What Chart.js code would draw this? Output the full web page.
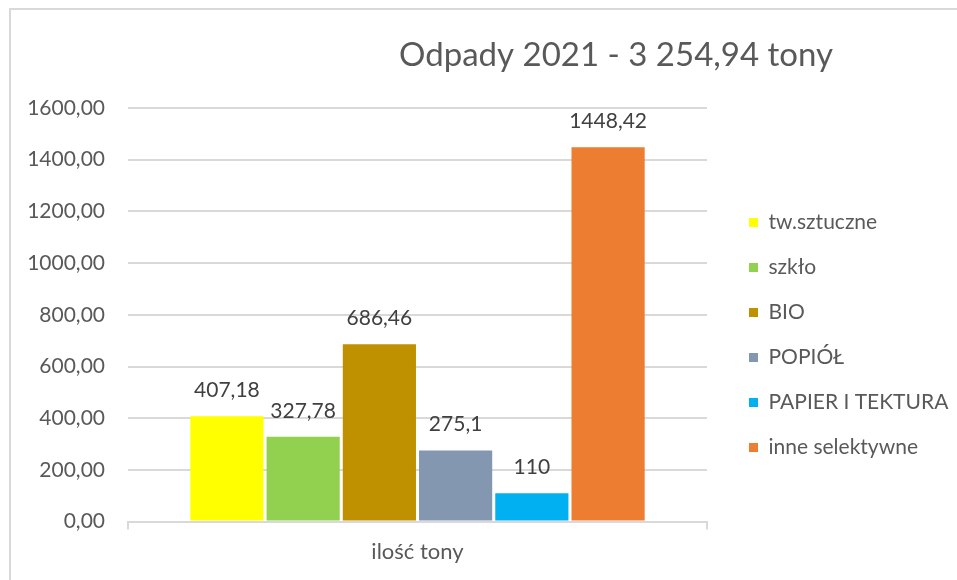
<!DOCTYPE html>
<html>
<head>
<meta charset="utf-8">
<script src="https://cdn.jsdelivr.net/npm/chart.js@4.4.1/dist/chart.umd.min.js"></script>
<style>
	html, body { margin: 0; padding: 0; background: #ffffff; }
	#wrap { position: relative; width: 957px; height: 580px; }
</style>
</head>
<body>
<div id="wrap"><canvas id="chart" width="957" height="580"></canvas></div>
<script>

// data
const categories = ["ilość tony"];
const seriesNames = ["tw.sztuczne", "szkło", "BIO", "POPIÓŁ", "PAPIER I TEKTURA", "inne selektywne"];
const seriesValues = [407.18, 327.78, 686.46, 275.1, 110, 1448.42];
const seriesColors = ["#FFFF00", "#92D050", "#BF9000", "#8497B0", "#00B0F0", "#ED7D31"];
const yMin = 0;
const yMax = 1600;
const yStep = 200;
const chartTitle = "Odpady 2021 - 3 254,94 tony";

const textColor = "#595959";
const gridColor = "#d9d9d9";
const fontFamily = "Lato, 'Open Sans', sans-serif";

// legend box size (excel keeps it wide, chart.js measures it too small)
const legendWidth = 232;
const legendShift = -6;

function commaNumber(v) {
	return String(v).replace(".", ",");
}

let datasets = [];

for (let i = 0; i < seriesNames.length; i++) {

	datasets.push({
		label: seriesNames[i],
		data: [seriesValues[i]],
		backgroundColor: seriesColors[i],
		borderWidth: 0
	});

}

// frame + title, drawn like the excel chart box
const framePlugin = {
	id: "frame",
	beforeDraw(chart) {
		let ctx = chart.ctx;
		ctx.save();
		ctx.fillStyle = "#ffffff";
		ctx.fillRect(0, 0, chart.width, chart.height);
		ctx.strokeStyle = gridColor;
		ctx.lineWidth = 2;
		ctx.strokeRect(10, 9, chart.width + 20, chart.height + 20);
		ctx.restore();
	},
	afterDraw(chart) {
		let ctx = chart.ctx;
		ctx.save();
		ctx.fillStyle = textColor;
		ctx.font = "33px " + fontFamily;
		ctx.textAlign = "center";
		ctx.textBaseline = "middle";
		ctx.fillText(chartTitle, 616, 55);
		ctx.restore();
	}
};

// force the legend width and nudge it up a bit
const legendTune = {
	id: "legendTune",
	beforeLayout(chart) {
		let lg = chart.legend;
		if (lg && !lg._tuned) {
			let fit = lg.fit.bind(lg);
			lg.fit = function() {
				fit();
				lg.width = legendWidth;
				if (lg.minSize) lg.minSize.width = legendWidth;
			};
			lg._tuned = true;
		}
	},
	afterLayout(chart) {
		let lg = chart.legend;
		if (lg) {
			lg.top += legendShift;
			lg.bottom += legendShift;
		}
	}
};

// value labels above the bars
const valueLabels = {
	id: "valueLabels",
	afterDatasetsDraw(chart) {
		let ctx = chart.ctx;
		ctx.save();
		ctx.fillStyle = "#404040";
		ctx.font = "21px " + fontFamily;
		ctx.textAlign = "center";
		ctx.textBaseline = "middle";
		chart.data.datasets.forEach(function(ds, i) {
			let meta = chart.getDatasetMeta(i);
			meta.data.forEach(function(bar, j) {
				ctx.fillText(commaNumber(ds.data[j]), bar.x, bar.y - 26);
			});
		});
		ctx.restore();
	}
};

new Chart(document.getElementById("chart"), {
	type: "bar",
	data: {
		labels: categories,
		datasets: datasets
	},
	options: {
		responsive: false,
		animation: false,
		categoryPercentage: 0.79,
		barPercentage: 0.96,
		layout: {
			padding: { top: 108, bottom: 6, left: 0, right: 0 }
		},
		plugins: {
			title: { display: false },
			tooltip: { enabled: false },
			legend: {
				position: "right",
				align: "center",
				labels: {
					boxWidth: 9,
					boxHeight: 9,
					padding: 24,
					color: textColor,
					font: { family: fontFamily, size: 21 }
				}
			}
		},
		scales: {
			x: {
				grid: {
					drawOnChartArea: false,
					drawTicks: true,
					tickLength: 8,
					color: gridColor,
					lineWidth: 2
				},
				border: { color: gridColor, width: 2 },
				ticks: {
					color: textColor,
					padding: 9,
					font: { family: fontFamily, size: 22 }
				}
			},
			y: {
				min: yMin,
				max: yMax,
				afterFit(scale) { scale.width = 128; },
				ticks: {
					stepSize: yStep,
					padding: 23,
					color: textColor,
					font: { family: fontFamily, size: 21 },
					callback: function(v) { return v.toFixed(2).replace(".", ","); }
				},
				grid: {
					color: gridColor,
					lineWidth: 2,
					drawTicks: false
				},
				border: { display: false }
			},
			gap: {
				type: "linear",
				position: "right",
				display: true,
				afterFit(scale) { scale.width = 18; },
				ticks: { display: false },
				grid: { display: false, drawTicks: false },
				border: { display: false }
			}
		}
	},
	plugins: [framePlugin, legendTune, valueLabels]
});

</script>
</body>
</html>
